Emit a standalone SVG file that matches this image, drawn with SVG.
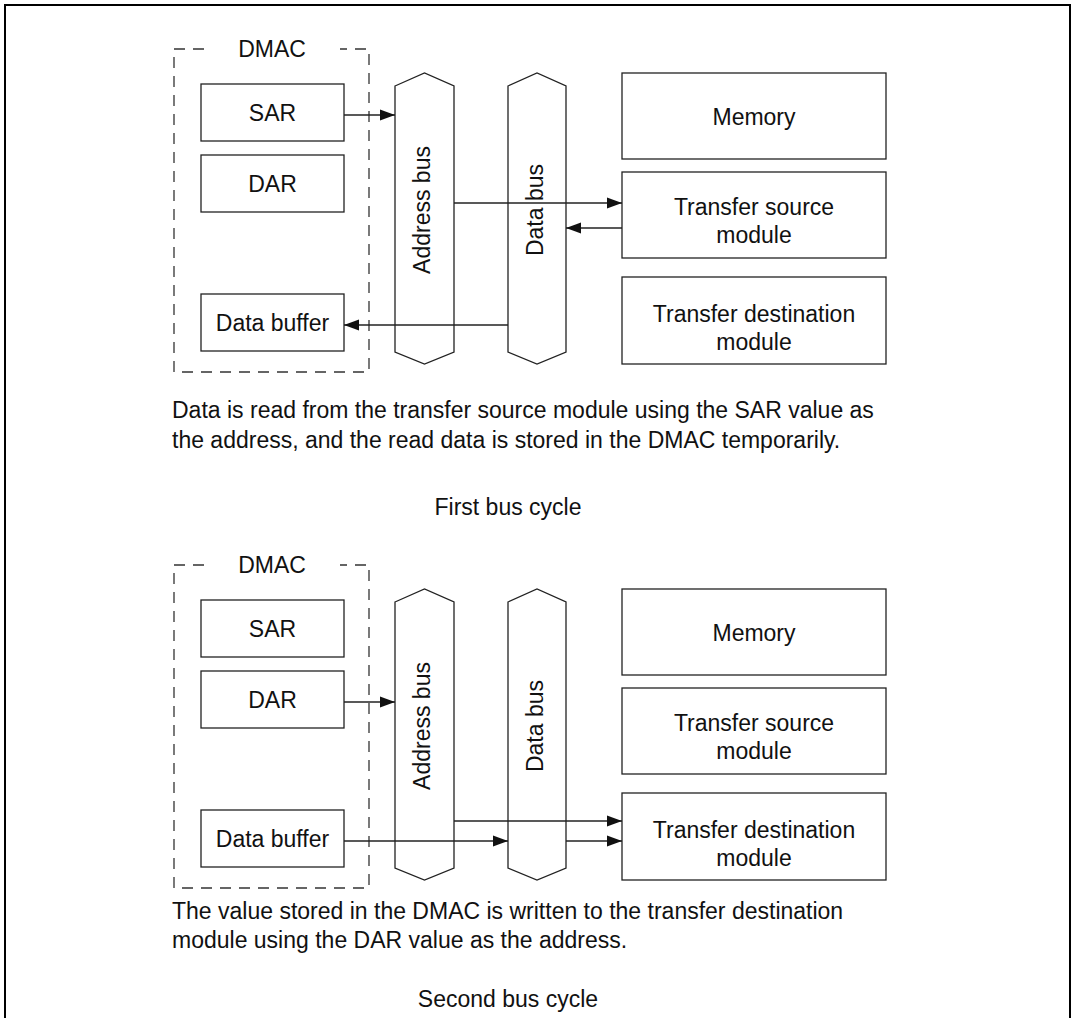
<svg xmlns="http://www.w3.org/2000/svg" width="1074" height="1018" viewBox="0 0 1074 1018">
<style>
.bg{fill:#fff}
.frame{fill:none;stroke:#000;stroke-width:2}
.box{fill:#fff;stroke:#222;stroke-width:1.3}
.dash{fill:none;stroke:#333;stroke-width:1.3;stroke-dasharray:11,8}
.bus{fill:#fff;stroke:#222;stroke-width:1.3}
.t{font-family:"Liberation Sans",Arial,sans-serif;font-size:23px;fill:#111}
.c{text-anchor:middle}
.con{fill:none;stroke:#222;stroke-width:1.3;marker-end:url(#ah)}
</style>
<defs>
<marker id="ah" markerUnits="userSpaceOnUse" markerWidth="16" markerHeight="12" refX="15" refY="6" orient="auto">
<path d="M0,0.5 L15,6 L0,11.5 Z" fill="#111"/>
</marker>
</defs>
<rect class="bg" x="0" y="0" width="1074" height="1018"/>
<path class="frame" d="M5,1018 V5 H1070 V1018"/>

<!-- First bus cycle -->
<g id="dmac1">
<path class="dash" d="M204,49 H174 V372 H369 V49 H340"/>
<text class="t c" x="272" y="57">DMAC</text>
</g>
<g id="sar1"><rect class="box" x="201" y="84" width="143" height="57"/><text class="t c" x="272.5" y="121">SAR</text></g>
<g id="dar1"><rect class="box" x="201" y="155" width="143" height="57"/><text class="t c" x="272.5" y="192">DAR</text></g>
<g id="buf1"><rect class="box" x="201" y="294" width="143" height="57"/><text class="t c" x="272.5" y="331">Data buffer</text></g>
<g id="abus1"><path class="bus" d="M395,86 L424.5,73 L454,86 V352 L424.5,364 L395,352 Z"/><text class="t c" transform="translate(430,210) rotate(-90)">Address bus</text></g>
<g id="dbus1"><path class="bus" d="M508,86 L537,73 L566,86 V352 L537,364 L508,352 Z"/><text class="t c" transform="translate(543,210) rotate(-90)">Data bus</text></g>
<g id="mem1"><rect class="box" x="622" y="73" width="264" height="86"/><text class="t c" x="754" y="125">Memory</text></g>
<g id="src1"><rect class="box" x="622" y="172" width="264" height="86"/><text class="t c" x="754" y="215">Transfer source</text><text class="t c" x="754" y="243">module</text></g>
<g id="dst1"><rect class="box" x="622" y="277" width="264" height="87"/><text class="t c" x="754" y="322">Transfer destination</text><text class="t c" x="754" y="350">module</text></g>
<g id="cap1">
<text class="t" x="172" y="418">Data is read from the transfer source module using the SAR value as</text>
<text class="t" x="172" y="448">the address, and the read data is stored in the DMAC temporarily.</text>
<text class="t c" x="508" y="515">First bus cycle</text>
</g>

<!-- Second bus cycle -->
<g id="dmac2">
<path class="dash" d="M204,565 H174 V888 H369 V565 H340"/>
<text class="t c" x="272" y="573">DMAC</text>
</g>
<g id="sar2"><rect class="box" x="201" y="600" width="143" height="57"/><text class="t c" x="272.5" y="637">SAR</text></g>
<g id="dar2"><rect class="box" x="201" y="671" width="143" height="57"/><text class="t c" x="272.5" y="708">DAR</text></g>
<g id="buf2"><rect class="box" x="201" y="810" width="143" height="57"/><text class="t c" x="272.5" y="847">Data buffer</text></g>
<g id="abus2"><path class="bus" d="M395,602 L424.5,589 L454,602 V868 L424.5,880 L395,868 Z"/><text class="t c" transform="translate(430,726) rotate(-90)">Address bus</text></g>
<g id="dbus2"><path class="bus" d="M508,602 L537,589 L566,602 V868 L537,880 L508,868 Z"/><text class="t c" transform="translate(543,726) rotate(-90)">Data bus</text></g>
<g id="mem2"><rect class="box" x="622" y="589" width="264" height="86"/><text class="t c" x="754" y="641">Memory</text></g>
<g id="src2"><rect class="box" x="622" y="688" width="264" height="86"/><text class="t c" x="754" y="731">Transfer source</text><text class="t c" x="754" y="759">module</text></g>
<g id="dst2"><rect class="box" x="622" y="793" width="264" height="87"/><text class="t c" x="754" y="838">Transfer destination</text><text class="t c" x="754" y="866">module</text></g>
<g id="cap2">
<text class="t" x="172" y="919">The value stored in the DMAC is written to the transfer destination</text>
<text class="t" x="172" y="948">module using the DAR value as the address.</text>
<text class="t c" x="508" y="1007">Second bus cycle</text>
</g>

<g id="connectors">
<path class="con" d="M344,115 H395"/>
<path class="con" d="M454,203 H622"/>
<path class="con" d="M622,228 H566"/>
<path class="con" d="M508,325 H344"/>
<path class="con" d="M344,702 H395"/>
<path class="con" d="M454,821 H622"/>
<path class="con" d="M344,841 H508"/>
<path class="con" d="M566,841 H622"/>
</g>
</svg>
